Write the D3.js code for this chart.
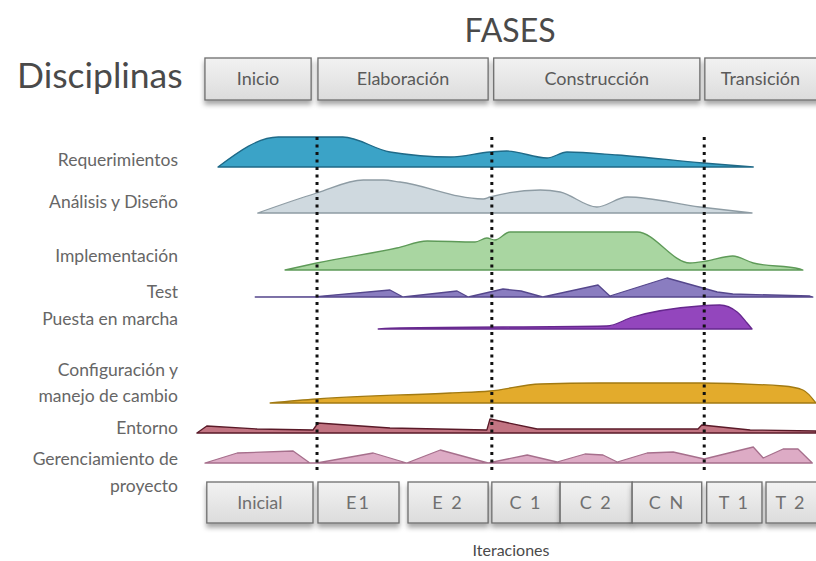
<!DOCTYPE html>
<html>
<head>
<meta charset="utf-8">
<script src="https://cdn.jsdelivr.net/npm/d3@7"></script>
<style>
  html, body { margin: 0; padding: 0; background: #ffffff; }
  svg { display: block; font-family: Lato, "Open Sans", sans-serif; }
</style>
</head>
<body>
<svg id="chart" width="816" height="561"></svg>
<script>
// ---------- DATA ----------
// time axis: 0..100 = share of project timeline
const phases = ["Inicio", "Elaboración", "Construcción", "Transición"];
const phaseSpans = [[1.6, 18.7], [19.8, 47.2], [48.1, 81.3], [82.1, 101.5]];
const phaseBounds = [19.65, 47.8, 82.0];

const iterations = ["Inicial", "E1", "E 2", "C 1", "C 2", "C N", "T 1", "T 2"];
const iterSpans = [[1.9, 19.0], [19.8, 32.85], [34.3, 47.2], [47.8, 58.8], [58.8, 70.4], [70.4, 81.6], [82.4, 91.3], [91.95, 101.5]];

const disciplines = ["Requerimientos", "Análisis y Diseño", "Implementación", "Test",
  "Puesta en marcha", "Configuración y manejo de cambio", "Entorno", "Gerenciamiento de proyecto"];
const disciplineLines = [["Requerimientos"], ["Análisis y Diseño"], ["Implementación"], ["Test"],
  ["Puesta en marcha"], ["Configuración y", "manejo de cambio"], ["Entorno"], ["Gerenciamiento de", "proyecto"]];

// effort per discipline: [time, effort 0..100]
const requerimientos = [[3.7,0],[13.4,75],[23.8,75],[31.4,37.5],[41.1,25],[47.5,37.5],[50.2,40],[56.7,22.5],[59.9,37.5],[68.0,30],[81.8,10],[89.9,0]];
const analisisDiseno = [[10.1,0],[19.6,50],[27.1,82.5],[30.3,82.5],[33.0,77.5],[46.4,35],[47.5,40],[55.6,57.5],[58.8,52.5],[64.7,15],[69.6,40],[81.3,15],[89.7,0]];
const implementacion = [[14.5,0],[19.6,17.5],[32.5,55],[37.4,72.5],[45.1,70],[47.0,80],[48.3,75],[50.7,95],[71.2,95],[79.7,17.5],[82.4,22.5],[86.6,35],[89.9,17.5],[97.4,2.5],[97.9,0]];
const test = [[9.7,0],[19.6,1],[31.4,17.5],[33.5,0],[42.2,15],[44.0,0],[49.6,20],[52.5,15],[56.0,0],[64.9,30],[66.8,2.5],[76.0,47.5],[84.1,12.5],[86.6,7.5],[99.0,2.5],[99.5,0]];
const puestaEnMarcha = [[29.5,0],[33.0,2.5],[66.3,7.5],[70.5,30],[81.3,57.5],[84.5,60],[87.3,42.5],[88.9,15],[89.7,0]];
const configuracion = [[12.1,0],[19.6,10],[41.1,25],[47.5,30],[55.6,47.5],[65.2,50],[81.3,50],[94.7,42.5],[97.9,32.5],[100,0]];
const entorno = [[0.3,0],[1.9,17.5],[10.0,10],[19.0,7.5],[19.8,25],[31.4,12.5],[47.0,7.5],[47.5,35],[55.1,10],[81.0,10],[81.6,20],[89.4,7.5],[100,5]];
const gerenciamiento = [[1.6,0],[6.8,25],[15.8,30],[18.5,0],[19.6,0],[28.7,25],[34.1,0],[39.5,32.5],[47.2,0],[53.5,20],[58.3,2.5],[62.8,22.5],[65.7,20],[68.0,2.5],[72.8,25],[77.0,27.5],[82.0,10],[89.9,40],[91.5,12.5],[94.7,35],[97.1,35],[99.4,0]];

const seriesValues = [requerimientos, analisisDiseno, implementacion, test, puestaEnMarcha, configuracion, entorno, gerenciamiento];

// ---------- STYLE / LAYOUT ----------
const fills   = ["#3ba3c7", "#cfd9df", "#a9d6a1", "#8a7dc0", "#9346bd", "#e3ab2c", "#c27482", "#ddabc5"];
const strokes = ["#1f6a88", "#8e9ca4", "#5e9a58", "#55478c", "#66288e", "#a27a12", "#5a1a28", "#a66f8c"];
const smooth  = [true, true, true, false, true, true, false, false];
const rowBase = [167, 213, 270, 297, 329, 403, 433, 463];
const labelY  = [[166], [208], [262], [298], [325], [376, 402], [434], [465, 492]];

const svg = d3.select("#chart");
const x = d3.scaleLinear().domain([0, 100]).range([195, 816]);
const h = d3.scaleLinear().domain([0, 100]).range([0, 40]);

const defs = svg.append("defs");
const grad = defs.append("linearGradient").attr("id", "boxGrad").attr("x1", 0).attr("y1", 0).attr("x2", 0).attr("y2", 1);
grad.append("stop").attr("offset", "0%").attr("stop-color", "#f2f2f2");
grad.append("stop").attr("offset", "100%").attr("stop-color", "#dcdcdc");
const shadow = defs.append("filter").attr("id", "shadow").attr("x", "-10%").attr("y", "-10%").attr("width", "130%").attr("height", "150%");
shadow.append("feDropShadow").attr("dx", 0).attr("dy", 4).attr("stdDeviation", 2.5)
  .attr("flood-color", "#000").attr("flood-opacity", 0.35);

// Title
svg.append("text").attr("x", 510).attr("y", 42).attr("text-anchor", "middle")
  .attr("font-size", 32).attr("fill", "#4a4a4a").text("FASES");
svg.append("text").attr("x", 17).attr("y", 88)
  .attr("font-size", 35.5).attr("fill", "#4a4a4a").text("Disciplinas");

// Phase boxes
const pg = svg.append("g");
phases.forEach((p, i) => {
  const [a, b] = phaseSpans[i];
  pg.append("rect").attr("x", x(a)).attr("y", 58).attr("width", x(b) - x(a)).attr("height", 42)
    .attr("fill", "url(#boxGrad)").attr("stroke", "#6e6e6e").attr("stroke-width", 1.3)
    .attr("filter", "url(#shadow)");
  pg.append("text").attr("x", (x(a) + Math.min(x(b), 816)) / 2).attr("y", 85).attr("text-anchor", "middle")
    .attr("font-size", 18).attr("fill", "#5a5a5a").text(p);
});

// Discipline labels
disciplineLines.forEach((lines, i) => {
  lines.forEach((ln, j) => {
    svg.append("text").attr("x", 178).attr("y", labelY[i][j]).attr("text-anchor", "end")
      .attr("font-size", 17.5).attr("fill", "#666").text(ln);
  });
});

// Humps
const hg = svg.append("g");
seriesValues.forEach((vals, i) => {
  const base = rowBase[i];
  const area = d3.area()
    .x(d => x(d[0]))
    .y0(base)
    .y1(d => base - h(d[1]))
    .curve(smooth[i] ? d3.curveMonotoneX : d3.curveLinear);
  hg.append("path").datum(vals).attr("d", area)
    .attr("fill", fills[i]).attr("stroke", strokes[i]).attr("stroke-width", 1.3)
    .attr("stroke-linejoin", "round");
});

// Phase boundary dotted lines
phaseBounds.forEach(t => {
  svg.append("line").attr("x1", x(t)).attr("x2", x(t)).attr("y1", 137).attr("y2", 470)
    .attr("stroke", "#111").attr("stroke-width", 3).attr("stroke-dasharray", "3,4.5");
});

// Iteration boxes
const ig = svg.append("g");
iterations.forEach((it, i) => {
  const [a, b] = iterSpans[i];
  ig.append("rect").attr("x", x(a)).attr("y", 482).attr("width", x(b) - x(a)).attr("height", 41)
    .attr("fill", "url(#boxGrad)").attr("stroke", "#6e6e6e").attr("stroke-width", 1.3)
    .attr("filter", "url(#shadow)");
  ig.append("text").attr("x", (x(a) + Math.min(x(b), 816)) / 2).attr("y", 509).attr("text-anchor", "middle")
    .attr("font-size", 18).attr("fill", "#707070").attr("letter-spacing", it.length > 3 ? 0 : 2).text(it);
});

svg.append("text").attr("x", 511).attr("y", 556).attr("text-anchor", "middle")
  .attr("font-size", 16).attr("fill", "#4a4a4a").text("Iteraciones");
</script>
</body>
</html>
